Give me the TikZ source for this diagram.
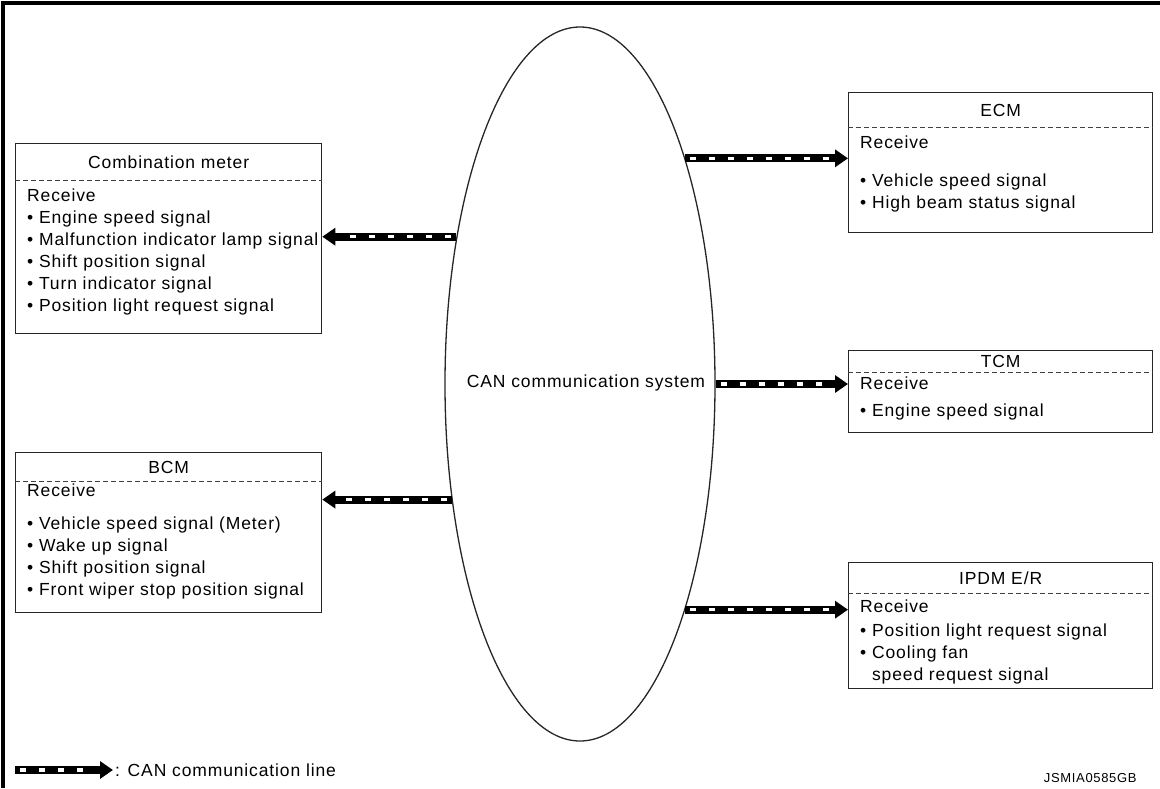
\documentclass[tikz,border=0pt]{standalone}
\usepackage{fontspec}
\setmainfont{Liberation Sans}[LetterSpace=5]
\usetikzlibrary{arrows.meta,shapes.geometric,positioning}

\tikzset{
  unit/.style={draw=black!85,line width=1.3pt,anchor=north west,inner sep=0pt},
  head/.style={inner sep=0pt},
  body/.style={anchor=north west,align=left,inner sep=0pt},
  sepline/.style={draw=black!75,line width=1pt,dash pattern=on 5pt off 3pt},
  canline/.style={line width=8pt,-{Triangle[length=13pt,width=17pt]},
    postaction={draw=white,line width=3.5pt,-,dash pattern=on 6pt off 13pt,shorten <=5pt,shorten >=18pt}}
}

\begin{document}
\begin{tikzpicture}[x=1pt,y=-1pt,font=\fontsize{17.5}{22}\selectfont]
\useasboundingbox (0,0) rectangle (1160,788);
\draw[line width=4pt] (1160,3) -- (3,3) -- (3,788);

\node[ellipse,draw=black!85,line width=1.3pt,minimum width=270pt,minimum height=714pt,inner sep=0pt] (can) at (580,384) {};
\node (canlabel) at (586,383) {CAN communication system};

% left side
\node[unit,minimum width=306pt,minimum height=190pt] (cm) at (15,143) {};
\node[head] (cmhead) at (cm.north |- 0,162) {Combination meter};
\draw[sepline] (cm.west |- 0,180) -- (cm.east |- 0,180);
\node[body] (cmbody) at (27,189) {Receive\\
  \textbullet\ Engine speed signal\\
  \textbullet\ Malfunction indicator lamp signal\\
  \textbullet\ Shift position signal\\
  \textbullet\ Turn indicator signal\\
  \textbullet\ Position light request signal};

\node[unit,minimum width=306pt,minimum height=160pt] (bcm) at (15,452) {};
\node[head] (bcmhead) at (bcm.north |- 0,467) {BCM};
\draw[sepline] (bcm.west |- 0,481) -- (bcm.east |- 0,481);
\node[body] (bcmbody) at (27,484) {Receive\\[11pt]
  \textbullet\ Vehicle speed signal (Meter)\\
  \textbullet\ Wake up signal\\
  \textbullet\ Shift position signal\\
  \textbullet\ Front wiper stop position signal};

% right side
\node[unit,minimum width=304pt,minimum height=140pt] (ecm) at (848,92) {};
\node[head] (ecmhead) at (ecm.north |- 0,110) {ECM};
\draw[sepline] (ecm.west |- 0,127) -- (ecm.east |- 0,127);
\node[body] (ecmbody) at (860,136) {Receive\\[16pt]
  \textbullet\ Vehicle speed signal\\
  \textbullet\ High beam status signal};

\node[unit,minimum width=304pt,minimum height=82pt] (tcm) at (848,350) {};
\node[head] (tcmhead) at (tcm.north |- 0,361) {TCM};
\draw[sepline] (tcm.west |- 0,372) -- (tcm.east |- 0,372);
\node[body] (tcmbody) at (860,377) {Receive\\[5pt]
  \textbullet\ Engine speed signal};

\node[unit,minimum width=304pt,minimum height=126pt] (ipdm) at (848,562) {};
\node[head] (ipdmhead) at (ipdm.north |- 0,578) {IPDM E/R};
\draw[sepline] (ipdm.west |- 0,593) -- (ipdm.east |- 0,593);
\node[body] (ipdmbody) at (860,600) {Receive\\[2pt]
  \textbullet\ Position light request signal\\
  \textbullet\ Cooling fan\\
  \phantom{\textbullet\ }speed request signal};

% CAN lines
\draw[canline] (can.130) -- (can.130 -| cm.east);
\draw[canline] (can.222) -- (can.222 -| bcm.east);
\draw[canline] (can.65) -- (can.65 -| ecm.west);
\draw[canline] (can.east) -- (can.east -| tcm.west);
\draw[canline] (can.295) -- (can.295 -| ipdm.west);

% legend
\coordinate (legstart) at (15,770);
\node[anchor=west,inner sep=2pt] (legend) at (113,770) {: CAN communication line};
\draw[canline] (legstart) -- (legend.west);
\node[anchor=east,font=\fontsize{13}{15}\selectfont] (code) at (1140,778) {JSMIA0585GB};
\end{tikzpicture}
\end{document}
